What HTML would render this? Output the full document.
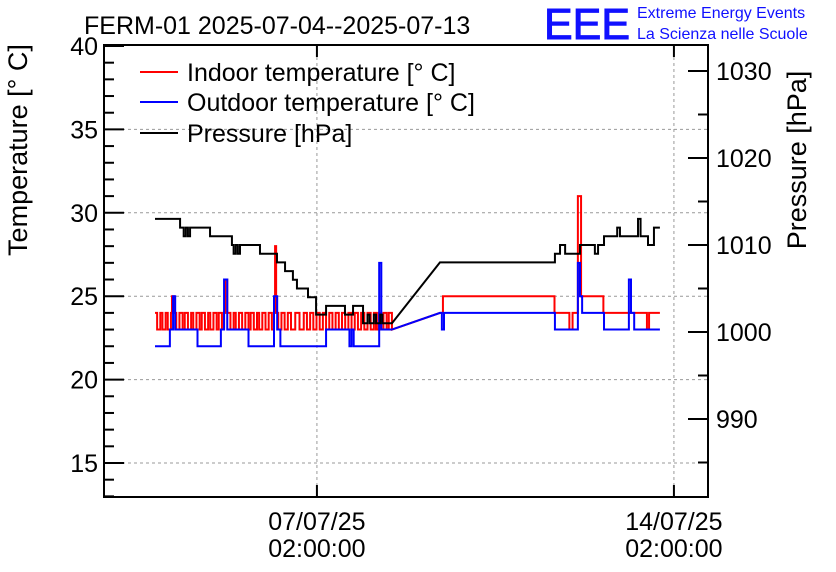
<!DOCTYPE html>
<html><head><meta charset="utf-8"><style>
body{margin:0;background:#fff}
svg{display:block;font-family:"Liberation Sans",sans-serif}
</style></head><body>
<svg id="chart" width="836" height="572" viewBox="0 0 836 572" xmlns="http://www.w3.org/2000/svg">
<rect width="836" height="572" fill="#fff"/>
<text x="84" y="34" font-size="25">FERM-01 2025-07-04--2025-07-13</text>
<text x="544" y="39" font-size="44" fill="#1010ff" stroke="#1010ff" stroke-width="1" textLength="86" lengthAdjust="spacingAndGlyphs">EEE</text>
<text x="637" y="18" font-size="16" fill="#1010ff">Extreme Energy Events</text>
<text x="637" y="39" font-size="16" fill="#1010ff">La Scienza nelle Scuole</text>
<g id="grid"></g>
<g id="series"></g>
<g id="axes"></g>
<text transform="translate(27,150) rotate(-90)" text-anchor="middle" font-size="27">Temperature [° C]</text>
<text transform="translate(806,160) rotate(-90)" text-anchor="middle" font-size="27">Pressure [hPa]</text>
<g>
<line x1="140" y1="72" x2="178" y2="72" stroke="#ff0000" stroke-width="2"/>
<text x="187" y="81" font-size="25">Indoor temperature [° C]</text>
<line x1="140" y1="102" x2="178" y2="102" stroke="#0000ff" stroke-width="2"/>
<text x="187" y="111" font-size="25">Outdoor temperature [° C]</text>
<line x1="140" y1="133" x2="178" y2="133" stroke="#000" stroke-width="2"/>
<text x="187" y="142" font-size="25">Pressure [hPa]</text>
</g>
</svg>
<script>
const xTickTimes=[100.2,268.2];
const xTickLine1=["07/07/25","14/07/25"];
const xTickLine2=["02:00:00","02:00:00"];
const tTicks=[40,35,30,25,20,15];
const pTicks=[1030,1020,1010,1000,990];
const gapStart=135.5, gapEnd=158.1;
const redT=[24,25,26.5,27.5,29,30,31.5,32,33,34,35.5,37,38,39.5,41,42,43.5,45,46,47.5,49,50,51.5,53,54,55.5,56.5,57,58,59.5,61,62,63.5,65,66.5,68,69,70.5,72,73,74.5,76,77.5,79,80,80.5,81,82,83.5,85,86.5,88,90,92,94,95.5,97,98.5,100,101.5,103,104.5,106,107.5,109,110.5,112,113.5,115,116.5,118,119.5,121,122.5,124,125.5,127,128,129,130,131.5,133,134,135.5,158.1,159.5,212,219,220.5,223,224.5,226,235,255.5,256.5,261.6];
const redV=[24,23,24,23,24,23,24,25,24,23,
24,23,24,23,24,23,24,23,24,23,
24,23,24,23,24,23,24,26,24,23,
24,23,24,23,24,23,24,23,24,23,
24,23,24,23,24,28,24,23,24,23,
24,23,24,23,24,23,24,23,24,23,
24,23,24,23,24,23,24,23,24,23,
24,23,24,23,24,23,24,23,24,23,
24,23,24,23,24,25,24,23,24,31,
25,25,24,23,24,24];
const blueT=[24,31,32.5,33.5,44,55,56.5,58,68,80,81.5,83,84.5,104.5,115.5,116.5,117.5,129.5,130.5,131.5,135.5,158.1,159,160,212.2,223,224,225,235.3,247,248,249.5,261.6];
const blueV=[22,23,25,23,22,23,26,23,22,25,23,22,22,23,22,23,22,27,23,23,23,24,23,24,23,27,25,24,23,26,24,23,23];
const presT=[24,35.8,37.5,38.5,39.5,40.5,41.5,49.9,60.2,61,62,63,64,65,73.4,81.4,85.2,88.9,90.8,96,99.8,104.5,113.4,117.2,121.9,124,125,127,128,130,131,135.5,158.1,212.2,214.6,217,224,231,232.5,235.3,241.5,242.8,251.3,252.5,256,258.8,261.6];
const presV=[1013,1012,1011,1012,1011,1012,1012,1011,1010,1009,1010,1009,1010,1010,1009,1008,1007,1006,1005,1004,1002,1003,1002,1003,1001,1002,1001,1002,1001,1002,1001,1001,1008,1009,1010,1009,1010,1009,1010,1011,1012,1011,1013,1011,1010,1012,1012];

const L=104,R=708,T=45,B=497;
const xScale=t=>L+t*2.125;
const yT=v=>46+(40-v)*16.68;
const yP=v=>332-(v-1000)*8.7;
const NS="http://www.w3.org/2000/svg";
function mk(tag,attrs,parent){const e=document.createElementNS(NS,tag);for(const k in attrs)e.setAttribute(k,attrs[k]);parent.appendChild(e);return e;}
const grid=document.getElementById('grid'),axes=document.getElementById('axes'),ser=document.getElementById('series');

tTicks.forEach(v=>{if(v<40){const g=mk('line',{x1:L,x2:R,y1:yT(v),y2:yT(v),stroke:'#999','stroke-dasharray':'3,3'},grid);

}});
xTickTimes.forEach(t=>{const g=mk('line',{x1:xScale(t),x2:xScale(t),y1:T,y2:B,stroke:'#999','stroke-dasharray':'3,3'},grid);

});

function path(ts,vs,ys,color,name){
  let d='M'+xScale(ts[0])+','+ys(vs[0]);
  for(let i=1;i<ts.length;i++){
    const x=xScale(ts[i]);
    if(ts[i-1]>=gapStart-0.1&&ts[i]<=gapEnd+0.1) d+=' L'+x+','+ys(vs[i]);
    else d+=' L'+x+','+ys(vs[i-1])+' L'+x+','+ys(vs[i]);
  }
  const p=mk('path',{d:d,fill:'none',stroke:color,'stroke-width':2},ser);
  
  
}
path(redT,redV,yT,'#ff0000','indoor-temperature-line');
path(blueT,blueV,yT,'#0000ff','outdoor-temperature-line');
path(presT,presV,yP,'#000000','pressure-line');

const fr=mk('rect',{x:L,y:T,width:R-L,height:B-T,fill:'none',stroke:'#000','stroke-width':2},axes);


for(let v=13;v<=40;v++){const maj=v%5===0;
  const tk=mk('line',{x1:L,x2:L+(maj?20:10),y1:yT(v),y2:yT(v),stroke:'#000','stroke-width':2},axes);
  
  
}
tTicks.forEach(v=>{const tx=mk('text',{x:L-6,y:yT(v)+9,'text-anchor':'end','font-size':25},axes);tx.textContent=v;

});
for(let v=985;v<=1030;v+=5){const maj=v%10===0;
  const tk=mk('line',{x1:R,x2:R-(maj?20:10),y1:yP(v),y2:yP(v),stroke:'#000','stroke-width':2},axes);
  
  
}
pTicks.forEach(v=>{const tx=mk('text',{x:R+8,y:yP(v)+9,'font-size':25},axes);tx.textContent=v;

});
xTickTimes.forEach((t,i)=>{const x=xScale(t);
  const a=mk('line',{x1:x,x2:x,y1:B,y2:B-12,stroke:'#000','stroke-width':2},axes);
  
  
  const b=mk('line',{x1:x,x2:x,y1:T,y2:T+12,stroke:'#000','stroke-width':2},axes);
  
  
  const t1=mk('text',{x:x,y:530,'text-anchor':'middle','font-size':25},axes);t1.textContent=xTickLine1[i];
  
  
  const t2=mk('text',{x:x,y:557,'text-anchor':'middle','font-size':25},axes);t2.textContent=xTickLine2[i];
  
  
});
</script>
</body></html>
